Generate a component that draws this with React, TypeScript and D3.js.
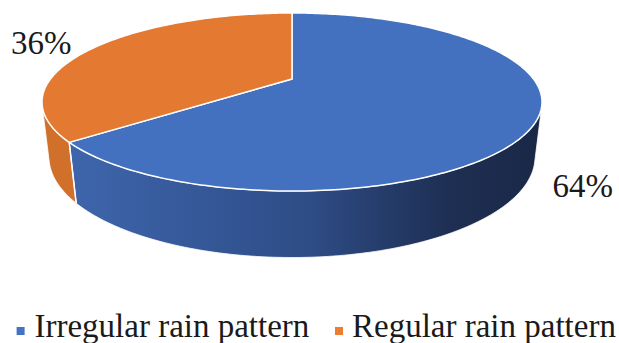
import React from "react";
import * as d3 from "d3";

// ---- data ----
const categories: string[] = ["Irregular rain pattern", "Regular rain pattern"];
const values: number[] = [64, 36];
const labels: string[] = ["64%", "36%"];

// ---- styles ----
const W = 619;
const H = 343;
const topColors = ["#4471BF", "#E47A32"];
const sideColors = ["url(#blueSide)", "#D1702B"];
const legendColors = ["#4472C4", "#ED7D31"];
const FONT = "Liberation Serif, Times New Roman, serif";
const FS = 33;

// ---- 3D camera (perspective) ----
const alpha = (23.6 * Math.PI) / 180;
const sa = Math.sin(alpha);
const ca = Math.cos(alpha);
const Dist = 3.6417;
const focal = 856.5;
const thick = 0.2381;
const cx = 292;
const cy = 131.7;

function proj(theta: number, y: number, r = 1): [number, number] {
  const x = r * Math.sin(theta);
  const z = -r * Math.cos(theta);
  const depth = Dist - y * sa - z * ca;
  const up = y * ca - z * sa;
  return [cx + (focal * x) / depth, cy - (focal * up) / depth];
}

const zc = Dist * ca;
const visStart = Math.acos(-1 / zc);
const visEnd = 2 * Math.PI - visStart;

function arcPts(a0: number, a1: number, y: number): [number, number][] {
  const n = Math.max(2, Math.ceil(Math.abs(a1 - a0) / (Math.PI / 180)));
  const pts: [number, number][] = [];
  for (let i = 0; i <= n; i++) pts.push(proj(a0 + ((a1 - a0) * i) / n, y));
  return pts;
}

function Label(props: { x: number; y: number; children: string }) {
  return (
    <text x={props.x} y={props.y} fontSize={FS} fill="#1a1a1a" style={{ fontFamily: FONT }}>
      {props.children}
    </text>
  );
}

export default function App() {
  const pie = d3.pie<number>().sort(null).value((d) => d);
  const arcs = pie(values);
  const line = d3.line();
  const apex = proj(0, thick, 0);

  const sides = arcs
    .map((a, i) => {
      const s = Math.max(a.startAngle, visStart);
      const e = Math.min(a.endAngle, visEnd);
      if (e <= s) return null;
      const topP = arcPts(s, e, thick);
      const botP = arcPts(e, s, 0);
      return { i, d: line([...topP, ...botP])! + "Z" };
    })
    .filter(Boolean) as { i: number; d: string }[];

  const tops = arcs.map((a, i) => {
    const pts = [apex, ...arcPts(a.startAngle, a.endAngle, thick)];
    return { i, d: line(pts)! + "Z" };
  });

  const seams = arcs
    .map((a) => a.startAngle)
    .filter((t) => t > visStart && t < visEnd)
    .map((t) => [proj(t, thick), proj(t, 0)]);

  const legendX = [16.6, 335];
  const legendTextX = [34.5, 352];

  return (
    <svg width={W} height={H} style={{ position: "absolute", left: 0, top: 0, background: "#fff" }}>
      <defs>
        <linearGradient id="blueSide" gradientUnits="userSpaceOnUse" x1={70} y1={0} x2={542} y2={0}>
          <stop offset="0" stopColor="#3E65AC" />
          <stop offset="0.5" stopColor="#2E4D87" />
          <stop offset="0.8" stopColor="#1E2F53" />
          <stop offset="1" stopColor="#1A2847" />
        </linearGradient>
      </defs>
      {sides.map((s) => (
        <path key={"s" + s.i} d={s.d} fill={sideColors[s.i]} stroke="#fff" strokeWidth={0.8} />
      ))}
      {seams.map((p, k) => (
        <line key={"m" + k} x1={p[0][0]} y1={p[0][1]} x2={p[1][0]} y2={p[1][1]} stroke="#fff" strokeWidth={1.5} />
      ))}
      {tops.map((t) => (
        <path key={"t" + t.i} d={t.d} fill={topColors[t.i]} stroke="#fff" strokeWidth={1.5} strokeLinejoin="round" />
      ))}
      <Label x={552.5} y={197}>{labels[0]}</Label>
      <Label x={11} y={54}>{labels[1]}</Label>
      {categories.map((c, i) => (
        <g key={"l" + i}>
          <rect x={legendX[i]} y={327} width={8} height={8} fill={legendColors[i]} />
          <Label x={legendTextX[i]} y={337}>{c}</Label>
        </g>
      ))}
    </svg>
  );
}
